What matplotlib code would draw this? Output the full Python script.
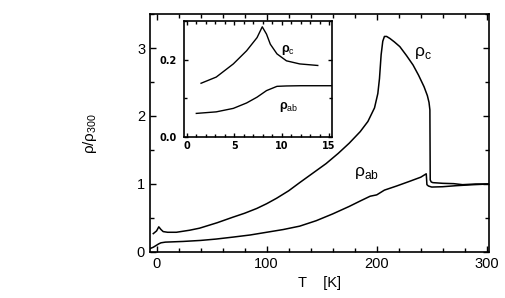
import numpy as np
import matplotlib.pyplot as plt
from matplotlib.ticker import MultipleLocator

plt.rcParams['font.family'] = ['Liberation Sans', 'DejaVu Sans']
plt.rcParams['mathtext.fontset'] = 'custom'
plt.rcParams['mathtext.rm'] = 'Liberation Sans'

# main panel: rho/rho300 vs T [K]
T_c = [-3, 0, 2, 4, 6, 10, 18, 30, 39, 55, 69, 80, 91, 100, 109, 120, 130, 142, 154, 165,
       175, 185, 192, 198, 201, 202.5, 204, 205.5, 207, 209, 212, 216, 221, 227, 233, 238,
       243, 246, 247.5, 248.3, 248.6, 249.5, 251, 260, 270, 278, 290, 302]
rho_c = [0.27, 0.31, 0.37, 0.33, 0.30, 0.29, 0.29, 0.32, 0.35, 0.43, 0.51, 0.57, 0.64, 0.71,
         0.79, 0.90, 1.02, 1.16, 1.30, 1.45, 1.60, 1.77, 1.92, 2.12, 2.33, 2.55, 2.90, 3.10,
         3.17, 3.17, 3.14, 3.09, 3.02, 2.89, 2.75, 2.60, 2.43, 2.30, 2.20, 2.09, 1.06, 1.03,
         1.02, 1.01, 1.005, 0.99, 1.0, 1.0]
T_ab = [-6, -3, 0, 2, 4, 8, 24, 40, 54, 70, 85, 100, 115, 130, 145, 160, 175, 185, 194, 200,
        202, 204, 207, 218, 230, 240, 245, 245.6, 247, 250, 260, 272, 288, 302]
rho_ab = [0.05, 0.07, 0.10, 0.12, 0.135, 0.145, 0.155, 0.17, 0.19, 0.22, 0.25, 0.29, 0.33,
          0.38, 0.46, 0.56, 0.67, 0.75, 0.82, 0.84, 0.86, 0.88, 0.91, 0.97, 1.04, 1.10, 1.15,
          0.99, 0.97, 0.955, 0.96, 0.975, 0.99, 1.0]

# inset: low temperature part
Ti_c = [1.5, 3.1, 4.9, 6.3, 7.4, 7.95, 8.4, 8.8, 9.5, 10.5, 11.9, 13.8]
ri_c = [0.139, 0.155, 0.189, 0.223, 0.257, 0.285, 0.266, 0.240, 0.215, 0.197, 0.189, 0.185]
Ti_ab = [1.0, 3.1, 4.9, 6.3, 7.4, 8.4, 9.5, 10.5, 12.0, 15.3]
ri_ab = [0.061, 0.065, 0.074, 0.088, 0.103, 0.120, 0.131, 0.132, 0.1326, 0.1326]

fig = plt.figure(figsize=(5.06, 2.98), dpi=100)
ax = fig.add_axes([0.2964, 0.1544, 0.67, 0.7986])
ax.plot(T_c, rho_c, color='k', lw=1.1)
ax.plot(T_ab, rho_ab, color='k', lw=1.1)
ax.set_xlim(-6, 302)
ax.set_ylim(0, 3.5)
ax.xaxis.set_major_locator(MultipleLocator(100))
ax.xaxis.set_minor_locator(MultipleLocator(20))
ax.yaxis.set_major_locator(MultipleLocator(1))
ax.yaxis.set_minor_locator(MultipleLocator(0.5))
ax.tick_params(which='both', direction='in', top=True, right=True, labelsize=10.5, width=1)
ax.tick_params(which='major', length=4)
ax.tick_params(which='minor', length=3)
for s in ax.spines.values():
    s.set_linewidth(1.2)
ax.set_xlabel('T    [K]', fontsize=10.5, labelpad=4)
ax.set_ylabel('ρ/ρ$_{300}$', fontsize=11, labelpad=27)
ax.text(242, 2.93, 'ρ$_\\mathrm{c}$', fontsize=12.5, ha='center', va='center')
ax.text(191, 1.16, 'ρ$_\\mathrm{ab}$', fontsize=12.5, ha='center', va='center')

ins = fig.add_axes([0.3636, 0.5403, 0.2925, 0.3892])
ins.plot(Ti_c, ri_c, color='k', lw=1.0)
ins.plot(Ti_ab, ri_ab, color='k', lw=1.0)
ins.set_xlim(-0.3, 15.3)
ins.set_ylim(0, 0.3)
ins.xaxis.set_major_locator(MultipleLocator(5))
ins.xaxis.set_minor_locator(MultipleLocator(1))
ins.yaxis.set_major_locator(MultipleLocator(0.2))
ins.yaxis.set_minor_locator(MultipleLocator(0.1))
ins.yaxis.set_major_formatter(lambda v, p: '%.1f' % v)
ins.tick_params(which='both', direction='in', top=True, right=True, labelsize=7, width=1, pad=3)
ins.tick_params(axis='y', pad=5)
ins.tick_params(which='major', length=3)
ins.tick_params(which='minor', length=2.5)
for lab in ins.get_xticklabels() + ins.get_yticklabels():
    lab.set_fontweight('bold')
    lab.set_family('DejaVu Sans')
for s in ins.spines.values():
    s.set_linewidth(1.2)
ins.text(10.7, 0.225, 'ρ$_\\mathrm{c}$', fontsize=9, fontweight='bold', ha='center', va='center')
ins.text(10.7, 0.078, 'ρ$_\\mathrm{ab}$', fontsize=9, fontweight='bold', ha='center', va='center')

fig.savefig('out.png', dpi=100)
